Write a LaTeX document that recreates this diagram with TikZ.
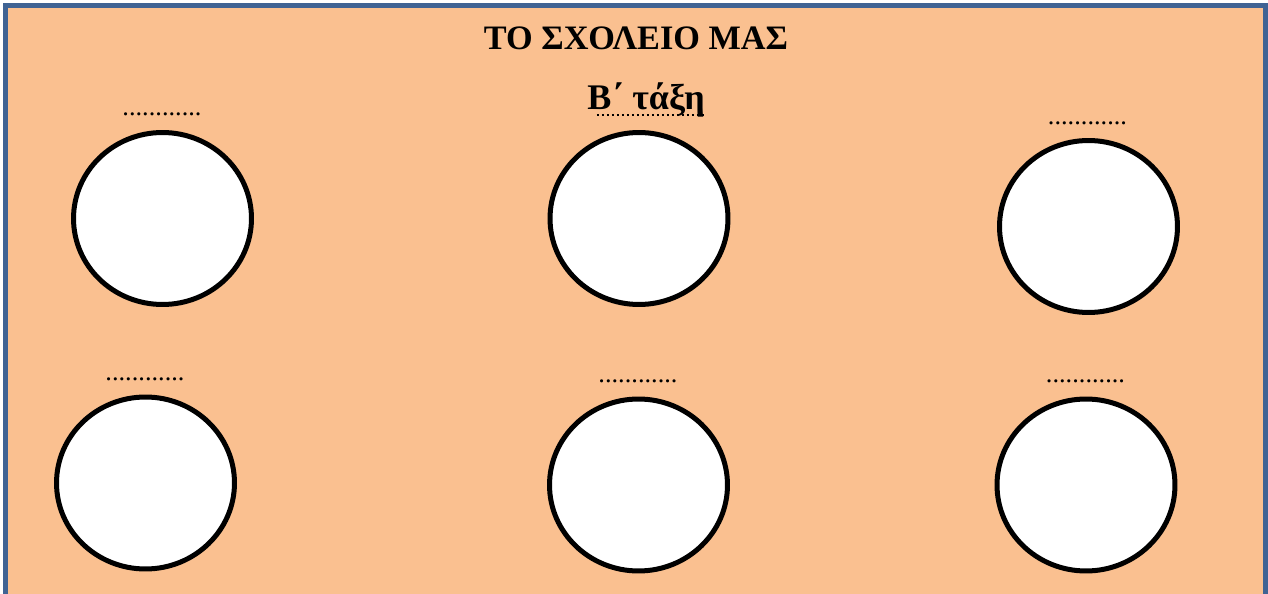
\documentclass[tikz,border=0pt]{standalone}
\usepackage{fontspec}
\setmainfont{Liberation Serif}
\usetikzlibrary{shapes.geometric}
\definecolor{bgfill}{HTML}{FAC090}
\definecolor{frame}{HTML}{3F6394}
\tikzset{
  hole/.style={ellipse, draw=black, fill=white, line width=0.1cm, minimum width=3.56cm, minimum height=3.44cm, inner sep=0pt},
  blank/.style={anchor=base, inner sep=0pt, font=\fontsize{15}{15}\selectfont},
  heading/.style={anchor=base, inner sep=0pt, font=\bfseries\fontsize{19.5}{19.5}\selectfont}
}
\begin{document}
\begin{tikzpicture}[x=0.02cm, y=-0.02cm]
\useasboundingbox (0,0) rectangle (1268,594);
\fill[bgfill] (5.5,5.5) rectangle (1265.5,600);
\draw[frame, line width=0.1cm] (5.5,620) -- (5.5,5.5) -- (1265.5,5.5) -- (1265.5,620);
\node[heading] (title) at (636,50) {ΤΟ ΣΧΟΛΕΙΟ ΜΑΣ};
\node[heading, font=\bfseries\fontsize{20.5}{20.5}\selectfont] (sub) at (646,110) {Β΄ τάξη};
\draw[line width=0.04cm, dash pattern=on 0.04cm off 0.06cm] ([yshift=-0.1cm,xshift=0.2cm]sub.base west) -- ([yshift=-0.1cm]sub.base east);
\node[hole] (c1) at (162.5,218.5) {};
\node[hole] (c2) at (639,218.5) {};
\node[hole] (c3) at (1088.5,226.5) {};
\node[hole] (c4) at (145.5,483) {};
\node[hole] (c5) at (638.5,485) {};
\node[hole] (c6) at (1086,485) {};
\node[blank] (d1) at (162,116) {............};
\node[blank] (d3) at (1087.5,125) {............};
\node[blank] (d4) at (145,381) {............};
\node[blank] (d5) at (638,383) {............};
\node[blank] (d6) at (1085.5,383) {............};
\end{tikzpicture}
\end{document}
